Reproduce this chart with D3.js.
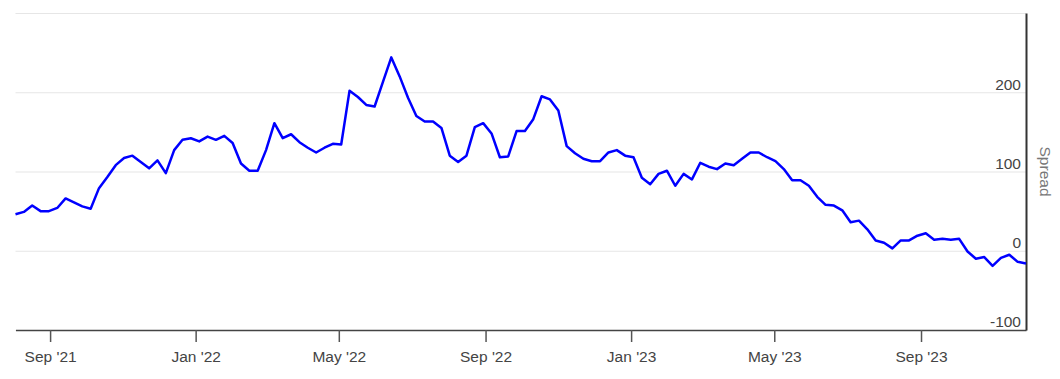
<!DOCTYPE html>
<html>
<head>
<meta charset="utf-8">
<script src="https://cdn.jsdelivr.net/npm/d3@7"></script>
<style>
  body { margin: 0; background: #fff; }
  text { font-family: "Liberation Sans", Arial, sans-serif; }
</style>
</head>
<body>
<svg></svg>
<script>
// weekly observations, first on 2021-08-03, last on 2023-11-28
let startDate = "2021-08-03";
let endDate = "2023-11-28";
let spread = [
  46, 49, 57, 50, 50, 54, 66, 61, 56, 53,
  79, 93, 108, 117, 120, 112, 104, 114, 98, 127,
  140, 142, 138, 144, 140, 145, 136, 110, 101, 101,
  127, 161, 142, 147, 137, 130, 124, 130, 135, 134,
  202, 194, 184, 182, 213, 244, 220, 193, 170, 163,
  163, 155, 120, 112, 120, 156, 161, 148, 118, 119,
  151, 151, 166, 195, 191, 177, 132, 123, 116, 113,
  113, 124, 127, 120, 118, 92, 84, 97, 101, 82,
  97, 90, 111, 106, 103, 110, 108, 116, 124, 124,
  118, 113, 103, 89, 89, 82, 68, 58, 57, 51,
  36, 38, 27, 13, 10, 3, 13, 13, 19, 22,
  14, 15, 14, 15, -1, -10, -8, -19, -9, -5,
  -14, -16
];
let yTicks = [-100, 0, 100, 200];
let yGrid = [-100, 0, 100, 200, 300];
let xTickDates = ["2021-09-01", "2022-01-01", "2022-05-01", "2022-09-01", "2023-01-01", "2023-05-01", "2023-09-01"];

window.addEventListener('load', e => {
    let width = 1060;
    let height = 379;
    let left = 15.5;
    let right = 1026;
    let top = 13;
    let bottom = 330;

    let parse = d3.timeParse("%Y-%m-%d");
    let dates = d3.timeDay.range(parse(startDate), d3.timeDay.offset(parse(endDate), 1), 7);
    let data = spread.map((v, i) => ({date: dates[i], value: v}));

    let xScale = d3.scaleTime()
                   .domain([parse(startDate), parse(endDate)])
                   .range([left, right]);

    let yScale = d3.scaleLinear()
                   .domain([-100, 300])
                   .range([bottom, top]);

    let svg = d3.select("svg")
                .attr("width", width)
                .attr("height", height);

    // gridlines
    svg.append("g")
      .selectAll("line")
      .data(yGrid)
      .enter()
      .append("line")
        .attr("x1", left)
        .attr("x2", right)
        .attr("y1", d => yScale(d) + 0.5)
        .attr("y2", d => yScale(d) + 0.5)
        .attr("stroke", "#e6e6e6")
        .attr("stroke-width", 1.2);

    // x axis
    let xAxis = d3.axisBottom(xScale)
                  .tickValues(xTickDates.map(parse))
                  .tickFormat(d3.timeFormat("%b '%y"))
                  .tickSize(12)
                  .tickSizeOuter(0)
                  .tickPadding(9);

    let gx = svg.append("g")
      .attr("transform", "translate(0," + bottom + ")")
      .call(xAxis);
    gx.select(".domain").attr("stroke", "#444").attr("stroke-width", 1.5);
    gx.selectAll(".tick line").attr("stroke", "#555").attr("stroke-width", 1.5);
    gx.selectAll(".tick text")
      .attr("fill", "#444")
      .style("font-size", "15.5px")
      .style("font-family", "'Liberation Sans', Arial, sans-serif");

    // y axis on the right, labels inside plot above gridlines
    let yAxis = d3.axisRight(yScale)
                  .tickValues(yTicks)
                  .tickFormat(d => String(d))
                  .tickSize(0)
                  .tickSizeOuter(0);

    let gy = svg.append("g")
      .attr("transform", "translate(" + right + ",0)")
      .call(yAxis);
    gy.select(".domain").attr("stroke", "#333").attr("stroke-width", 2);
    gy.selectAll(".tick text")
      .attr("x", -5)
      .attr("dy", "-0.2em")
      .attr("fill", "#444")
      .style("text-anchor", "end")
      .style("font-size", "15.5px")
      .style("font-family", "'Liberation Sans', Arial, sans-serif");

    svg.append("text")
      .attr("transform", "translate(" + 1040 + "," + ((top + bottom) / 2) + ") rotate(90)")
      .style("text-anchor", "middle")
      .style("font-size", "15.5px")
      .attr("fill", "#777")
      .text("Spread");

    // series
    let line = d3.line()
                 .x(d => xScale(d.date))
                 .y(d => yScale(d.value));

    svg.append("path")
      .datum(data)
      .attr("d", line)
      .attr("fill", "none")
      .attr("stroke", "#0000ff")
      .attr("stroke-width", 2.5)
      .attr("stroke-linejoin", "round");
});
</script>
</body>
</html>
